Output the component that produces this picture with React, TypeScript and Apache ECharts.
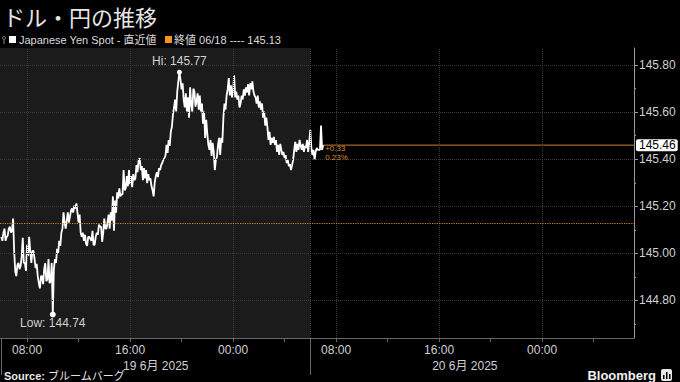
import React, { useEffect, useRef } from "react";
import * as echarts from "echarts";

// Time of first sample (hours since 19 Jun 2025 00:00) and sampling step
const startHour = 6;
const stepMinutes = 5;

// USD/JPY spot, 5-minute samples from 19 Jun 06:00 to 20 Jun 07:00
const prices = [
  145.070, 145.053, 145.088, 145.105, 145.053, 145.070, 145.075, 145.105, 145.113, 145.088,
  145.096, 145.148, 145.010, 144.925, 144.903, 144.950, 144.959, 144.933, 144.946, 144.985,
  145.066, 144.959, 144.959, 144.925, 145.036, 144.989, 145.070, 145.010, 144.959, 145.010,
  145.010, 144.976, 144.937, 144.955, 144.903, 144.873, 144.851, 144.903, 144.903, 144.869,
  144.933, 144.959, 144.882, 144.890, 144.976, 144.873, 144.882, 144.959, 144.740, 144.933,
  144.976, 144.959, 145.019, 145.002, 145.053, 145.032, 145.088, 145.105, 145.174, 145.131,
  145.105, 145.139, 145.174, 145.131, 145.156, 145.182, 145.191, 145.173, 145.203, 145.191,
  145.212, 145.173, 145.131, 145.165, 145.088, 145.070, 145.088, 145.053, 145.079, 145.040,
  145.032, 145.070, 145.070, 145.062, 145.053, 145.096, 145.036, 145.036, 145.070, 145.088,
  145.079, 145.122, 145.113, 145.113, 145.049, 145.088, 145.148, 145.105, 145.105, 145.131,
  145.165, 145.105, 145.174, 145.139, 145.242, 145.096, 145.225, 145.173, 145.259, 145.233,
  145.276, 145.242, 145.251, 145.251, 145.354, 145.268, 145.276, 145.328, 145.285, 145.354,
  145.294, 145.328, 145.281, 145.337, 145.311, 145.319, 145.375, 145.345, 145.397, 145.405,
  145.354, 145.371, 145.311, 145.362, 145.319, 145.354, 145.298, 145.337, 145.311, 145.319,
  145.285, 145.268, 145.242, 145.302, 145.328, 145.345, 145.324, 145.362, 145.354, 145.375,
  145.384, 145.397, 145.405, 145.414, 145.461, 145.427, 145.482, 145.457, 145.517, 145.538,
  145.590, 145.620, 145.654, 145.603, 145.688, 145.731, 145.770, 145.740, 145.697, 145.723,
  145.654, 145.620, 145.680, 145.603, 145.663, 145.577, 145.706, 145.633, 145.603, 145.700,
  145.688, 145.624, 145.646, 145.680, 145.611, 145.671, 145.603, 145.637, 145.551, 145.603,
  145.491, 145.568, 145.508, 145.461, 145.440, 145.482, 145.414, 145.470, 145.431, 145.354,
  145.397, 145.410, 145.461, 145.491, 145.418, 145.491, 145.470, 145.577, 145.637, 145.611,
  145.671, 145.697, 145.745, 145.671, 145.714, 145.663, 145.689, 145.757, 145.663, 145.688,
  145.654, 145.671, 145.620, 145.637, 145.671, 145.654, 145.697, 145.671, 145.706, 145.684,
  145.719, 145.671, 145.723, 145.697, 145.731, 145.688, 145.671, 145.663, 145.637, 145.671,
  145.620, 145.646, 145.611, 145.637, 145.577, 145.603, 145.543, 145.577, 145.538, 145.482,
  145.517, 145.461, 145.491, 145.470, 145.495, 145.461, 145.482, 145.431, 145.461, 145.418,
  145.465, 145.440, 145.418, 145.431, 145.405, 145.418, 145.384, 145.397, 145.371, 145.379,
  145.354, 145.375, 145.397, 145.440, 145.474, 145.431, 145.465, 145.440, 145.482, 145.457,
  145.440, 145.465, 145.431, 145.457, 145.448, 145.482, 145.431, 145.474, 145.525, 145.448,
  145.418, 145.440, 145.397, 145.431, 145.448, 145.440, 145.440, 145.440, 145.543, 145.440,
  145.460,
];

const previousClose = 145.13;

// Axis extents (hours since 19 Jun 00:00, price)
const xMin = 5.9;
const xMax = 55.14;
const yMin = 144.64;
const yMax = 145.873;

// Tick values
const xLabelHours = [8, 16, 24, 32, 40, 48];
const xMinorTickHours = [8, 12, 16, 20, 24, 28, 32, 36, 40, 44, 48, 52];
const vGridHours = [8, 16, 24, 30, 32, 40, 48];
const dayCenters = [18, 42];
const dayLabels = ["19 6月 2025", "20 6月 2025"];
const dayBoundaries = [6, 30];
const yMajorTicks = [144.8, 145.0, 145.2, 145.4, 145.6, 145.8];
const yMinorTicks = [144.7, 144.9, 145.1, 145.3, 145.5, 145.7];

const FONT = "'Liberation Sans', 'Noto Sans CJK JP', sans-serif";
const ORANGE_LINE = "#c8802f";

export default function App() {
  const ref = useRef<HTMLDivElement>(null);

  useEffect(() => {
    if (!ref.current) return;
    const chart = echarts.init(ref.current, undefined, { renderer: "svg" });

    const data = prices.map((v, i) => [startHour + (i * stepMinutes) / 60, v]);
    const last = data[data.length - 1];
    const lastX = last[0] as number;
    const lastV = last[1] as number;
    const change = lastV - previousClose;
    const changePct = (change / previousClose) * 100;

    const gridLine = { color: "#3a3a3a", type: "dotted" as const, width: 1 };

    const option: any = {
      animation: false,
      backgroundColor: "#000",
      textStyle: { fontFamily: FONT },
      grid: { left: 0, right: 46, top: 48, bottom: 44, containLabel: false, outerBoundsMode: "none" },
      xAxis: [
        {
          type: "value",
          min: xMin,
          max: xMax,
          position: "bottom",
          axisLine: { show: true, onZero: false, lineStyle: { color: "#666" } },
          axisTick: { show: true, customValues: xMinorTickHours, length: 4, lineStyle: { color: "#666" } },
          axisLabel: {
            customValues: xLabelHours,
            color: "#d0d0d0",
            fontSize: 12,
            margin: 6,
            fontFamily: FONT,
            formatter: (v: number) => String(Math.round(v) % 24).padStart(2, "0") + ":00",
          },
          splitLine: { show: false },
        },
        {
          type: "value",
          min: xMin,
          max: xMax,
          position: "bottom",
          axisLine: { show: false, onZero: false },
          axisTick: { show: true, customValues: dayBoundaries, length: 37, lineStyle: { color: "#666" } },
          axisLabel: {
            customValues: dayCenters,
            color: "#d0d0d0",
            fontSize: 12,
            margin: 22,
            fontFamily: FONT,
            formatter: (v: number) => dayLabels[dayCenters.indexOf(Math.round(v))] || "",
          },
          splitLine: { show: false },
        },
      ],
      yAxis: [
        {
          type: "value",
          position: "right",
          min: yMin,
          max: yMax,
          axisLine: { show: true, lineStyle: { color: "#9a9a9a" } },
          axisTick: { show: true, customValues: yMajorTicks, length: 4, lineStyle: { color: "#9a9a9a" } },
          axisLabel: {
            customValues: yMajorTicks,
            color: "#d0d0d0",
            fontSize: 12,
            margin: 5,
            fontFamily: FONT,
            formatter: (v: number) => v.toFixed(2),
          },
          splitLine: { show: false },
        },
        {
          type: "value",
          position: "right",
          min: yMin,
          max: yMax,
          axisLine: { show: false },
          axisTick: { show: true, customValues: yMinorTicks, length: 2, lineStyle: { color: "#9a9a9a" } },
          axisLabel: { show: false },
          splitLine: { show: false },
        },
      ],
      series: [
        {
          type: "line",
          data: [],
          z: 1,
          silent: true,
          markArea: {
            silent: true,
            itemStyle: { color: "#1b1b1b" },
            data: [[{ xAxis: xMin }, { xAxis: 30 }]],
          },
          markLine: {
            silent: true,
            symbol: ["none", "none"],
            label: { show: false },
            data: [
              ...yMajorTicks.map((v) => ({ yAxis: v, lineStyle: gridLine })),
              ...vGridHours.map((h) => ({ xAxis: h, lineStyle: gridLine })),
              { yAxis: previousClose, lineStyle: { color: "#d4862e", type: "dotted", width: 1.2 } },
            ],
          },
        },
        {
          // last-value guide line from the last sample to the price axis
          type: "line",
          data: [
            [lastX, lastV],
            [xMax, lastV],
          ],
          z: 2,
          silent: true,
          showSymbol: false,
          clip: false,
          lineStyle: { color: ORANGE_LINE, width: 1 },
          itemStyle: { color: ORANGE_LINE },
          endLabel: {
            show: true,
            distance: 2,
            formatter: () => lastV.toFixed(2),
            backgroundColor: "#ffffff",
            color: "#000",
            fontSize: 12,
            fontFamily: FONT,
            padding: [0, 2, 0, 3],
            borderRadius: 2,
          },
        },
        {
          type: "line",
          data,
          z: 3,
          showSymbol: false,
          lineStyle: { color: "#ffffff", width: 1.8 },
          itemStyle: { color: "#ffffff" },
          markPoint: {
            silent: true,
            data: [
              {
                type: "max",
                symbol: "circle",
                symbolSize: 5,
                itemStyle: { color: "#fff" },
                label: {
                  show: true,
                  position: "top",
                  distance: 3,
                  color: "#d0d0d0",
                  fontSize: 12,
                  fontFamily: FONT,
                  formatter: (p: any) => "Hi: " + Number(p.value).toFixed(2),
                },
              },
              {
                type: "min",
                symbol: "circle",
                symbolSize: 6,
                itemStyle: { color: "#fff" },
                label: {
                  show: true,
                  position: "bottom",
                  distance: 0,
                  color: "#d0d0d0",
                  fontSize: 12,
                  fontFamily: FONT,
                  formatter: (p: any) => "Low: " + Number(p.value).toFixed(2),
                },
              },
              {
                coord: [lastX, lastV],
                symbol: "circle",
                symbolSize: 0,
                label: {
                  show: true,
                  position: [2, -1],
                  color: "#d9892f",
                  fontSize: 8,
                  lineHeight: 9,
                  fontFamily: FONT,
                  formatter: () =>
                    (change >= 0 ? "+" : "") + change.toFixed(2) + "\n" + changePct.toFixed(2) + "%",
                },
              },
            ],
          },
        },
      ],
      graphic: [
        {
          type: "text",
          x: 3,
          y: 5,
          style: {
            text: "ドル・円の推移",
            fill: "#e6e6e6",
            fontSize: 22,
            fontFamily: "'Noto Sans CJK JP', sans-serif",
            verticalAlign: "top",
          },
        },
        { type: "circle", shape: { cx: 4, cy: 38, r: 1.5 }, style: { stroke: "#888", fill: "none", lineWidth: 1 } },
        { type: "line", shape: { x1: 4, y1: 39.5, x2: 4, y2: 44 }, style: { stroke: "#888", lineWidth: 1 } },
        { type: "rect", shape: { x: 9, y: 36, width: 7, height: 7 }, style: { fill: "#ffffff" } },
        {
          type: "text",
          x: 19,
          y: 40,
          style: { text: "Japanese Yen Spot - 直近値", fill: "#dcdcdc", fontSize: 11, fontFamily: FONT, verticalAlign: "middle" },
        },
        { type: "rect", shape: { x: 165, y: 36, width: 7, height: 7 }, style: { fill: "#f0961e" } },
        {
          type: "text",
          x: 174,
          y: 40,
          style: { text: "終値 06/18 ---- 145.13", fill: "#dcdcdc", fontSize: 11, fontFamily: FONT, verticalAlign: "middle" },
        },
        {
          type: "text",
          x: 4,
          y: 376,
          style: {
            text: "{b|Source:} ブルームバーグ",
            fill: "#e6e6e6",
            fontSize: 11,
            fontFamily: FONT,
            verticalAlign: "middle",
            rich: { b: { fontWeight: "bold", fontSize: 11, fill: "#e6e6e6", fontFamily: FONT } },
          },
        },
        {
          type: "text",
          x: 656,
          y: 375,
          style: {
            text: "Bloomberg",
            fill: "#f0f0f0",
            fontSize: 13,
            fontWeight: "bold",
            fontFamily: FONT,
            align: "right",
            verticalAlign: "middle",
          },
        },
        { type: "rect", shape: { x: 661, y: 369, width: 11, height: 12, r: 2 }, style: { fill: "#e8e8e8" } },
        { type: "rect", shape: { x: 663, y: 375, width: 1.5, height: 4 }, style: { fill: "#000" } },
        { type: "rect", shape: { x: 666, y: 372, width: 1.5, height: 7 }, style: { fill: "#000" } },
        { type: "rect", shape: { x: 669, y: 374, width: 1.5, height: 5 }, style: { fill: "#000" } },
      ],
    };

    chart.setOption(option);
    return () => chart.dispose();
  }, []);

  return (
    <div
      ref={ref}
      style={{ position: "fixed", left: 0, top: 0, width: 680, height: 382, background: "#000" }}
    />
  );
}
